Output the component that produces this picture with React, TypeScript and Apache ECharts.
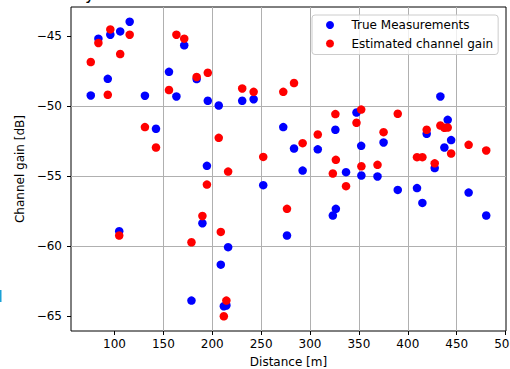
import React, { useEffect, useRef } from "react";
import * as echarts from "echarts";

// Measurement distance [m] for each sample point
const distance = [
  75.7, 83.5, 93.1, 95.7, 104.8, 105.8, 115.5, 131.1, 142.4, 155.7,
  163.3, 171.3, 178.7, 184.0, 189.9, 194.5, 195.4, 206.6, 208.7, 211.8,
  214.4, 216.2, 230.6, 242.3, 252.1, 272.6, 276.4, 283.6, 292.4, 307.9,
  323.3, 325.9, 326.4, 336.8, 347.5, 352.3, 352.5, 369.0, 375.2, 389.7,
  409.4, 414.9, 419.3, 427.5, 433.3, 437.4, 440.8, 444.3, 462.2, 480.2,
];

// Measured channel gain [dB]
const trueGain = [
  -49.22, -45.16, -48.03, -44.88, -58.92, -44.64, -43.95, -49.24, -51.6, -47.53,
  -49.29, -45.64, -63.88, -48.05, -58.35, -54.25, -49.6, -49.94, -61.31, -64.28,
  -64.23, -60.06, -49.6, -49.49, -55.63, -51.48, -59.23, -53.01, -54.59, -53.07,
  -57.8, -51.67, -57.32, -54.7, -50.44, -52.82, -54.94, -55.01, -52.58, -55.97,
  -55.84, -56.9, -51.96, -54.41, -49.29, -52.94, -50.96, -52.41, -56.16, -57.8,
];

// Model estimate of the channel gain [dB]
const estimatedGain = [
  -46.83, -45.47, -49.17, -44.5, -59.23, -46.26, -44.88, -51.48, -52.94, -48.83,
  -44.88, -45.16, -59.71, -47.9, -57.83, -55.59, -47.6, -52.25, -58.97, -65.0,
  -63.88, -54.66, -48.72, -48.96, -53.61, -48.96, -57.32, -48.33, -52.63, -52.01,
  -54.8, -50.55, -53.82, -55.7, -51.17, -50.23, -54.28, -54.18, -51.84, -50.53,
  -53.63, -53.63, -51.67, -54.07, -51.37, -51.53, -51.51, -53.37, -52.75, -53.15,
];

const xTicks = [100, 150, 200, 250, 300, 350, 400, 450, 500];
const yTicks = [-65, -60, -55, -50, -45];

const FONT = "DejaVu Sans";

// Data limits with a 5% margin on each side
function paddedRange(values: number[]): [number, number] {
  const lo = Math.min(...values);
  const hi = Math.max(...values);
  const pad = (hi - lo) * 0.05;
  return [lo - pad, hi + pad];
}

const minus = (v: number) => String(v).replace("-", "\u2212");

export default function App() {
  const ref = useRef<HTMLDivElement>(null);

  useEffect(() => {
    if (!ref.current) return;
    const chart = echarts.init(ref.current, undefined, { renderer: "svg" });

    const [xMin, xMax] = paddedRange(distance);
    const [yMin, yMax] = paddedRange([...trueGain, ...estimatedGain]);

    const axisText = { color: "#000", fontFamily: FONT, fontSize: 12 };

    chart.setOption({
      animation: false,
      backgroundColor: "#fff",
      textStyle: { fontFamily: FONT },
      grid: {
        left: 71,
        right: 4,
        top: 7,
        bottom: 38,
        show: true,
        borderColor: "#000",
        borderWidth: 1,
        backgroundColor: "transparent",
        containLabel: false,
        outerBoundsMode: "none",
      },
      legend: {
        orient: "vertical",
        left: 312,
        top: 15,
        padding: [4, 5, 5, 14],
        itemWidth: 8,
        itemHeight: 8,
        itemGap: 6.5,
        icon: "circle",
        backgroundColor: "rgba(255,255,255,0.8)",
        borderColor: "#cccccc",
        borderWidth: 1,
        borderRadius: 3,
        textStyle: {
          color: "#000",
          fontFamily: FONT,
          fontSize: 12,
          padding: [0, 0, 0, 12.5],
        },
        data: ["True Measurements", "Estimated channel gain"],
      },
      xAxis: {
        type: "value",
        min: xMin,
        max: xMax,
        splitNumber: 9,
        minInterval: 50,
        maxInterval: 50,
        name: "Distance [m]",
        nameLocation: "middle",
        nameGap: 25,
        nameTextStyle: axisText,
        axisLine: { show: false },
        axisTick: {
          show: true,
          inside: false,
          length: 4,
          customValues: xTicks,
          lineStyle: { color: "#000", width: 1 },
        },
        axisLabel: {
          ...axisText,
          margin: 7,
          customValues: xTicks,
          formatter: (v: number) => minus(v),
        },
        splitLine: {
          show: true,
          showMinLine: false,
          showMaxLine: false,
          lineStyle: { color: "#b0b0b0", width: 1 },
        },
      },
      yAxis: {
        type: "value",
        min: yMin,
        max: yMax,
        splitNumber: 5,
        minInterval: 5,
        maxInterval: 5,
        name: "Channel gain [dB]",
        nameLocation: "middle",
        nameRotate: 90,
        nameGap: 43,
        nameTextStyle: axisText,
        axisLine: { show: false },
        axisTick: {
          show: true,
          inside: false,
          length: 4,
          customValues: yTicks,
          lineStyle: { color: "#000", width: 1 },
        },
        axisLabel: {
          ...axisText,
          margin: 9,
          customValues: yTicks,
          formatter: (v: number) => minus(v),
        },
        splitLine: {
          show: true,
          showMinLine: false,
          showMaxLine: false,
          lineStyle: { color: "#b0b0b0", width: 1 },
        },
      },
      graphic: [
        {
          type: "text",
          left: 85,
          top: -16,
          style: { text: "y", font: `17px ${FONT}`, fill: "#000" },
          silent: true,
        },
        {
          type: "rect",
          left: 0,
          top: 290,
          shape: { width: 1.5, height: 12 },
          style: { fill: "#1ba1d6" },
          silent: true,
        },
      ],
      series: [
        {
          name: "True Measurements",
          type: "scatter",
          symbol: "circle",
          symbolSize: 8.5,
          itemStyle: { color: "#0000ff", opacity: 1 },
          data: distance.map((d, i) => [d, trueGain[i]]),
          z: 3,
        },
        {
          name: "Estimated channel gain",
          type: "scatter",
          symbol: "circle",
          symbolSize: 8.5,
          itemStyle: { color: "#ff0000", opacity: 1 },
          data: distance.map((d, i) => [d, estimatedGain[i]]),
          z: 4,
        },
      ],
    });

    return () => chart.dispose();
  }, []);

  return (
    <div
      ref={ref}
      style={{ position: "fixed", left: 0, top: 0, width: 510, height: 369 }}
    />
  );
}
